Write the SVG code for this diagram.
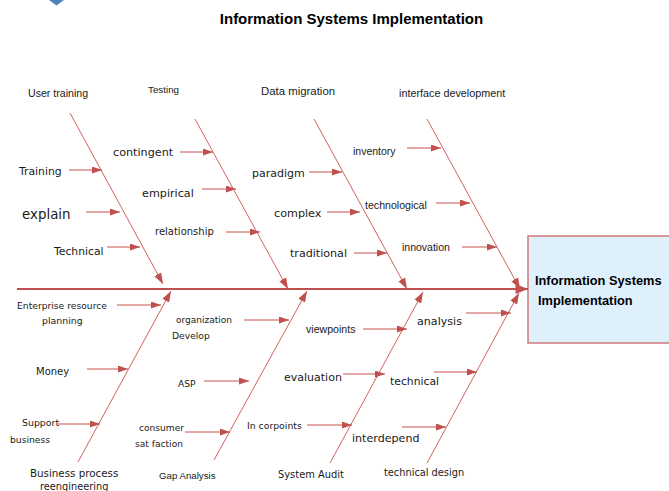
<svg xmlns="http://www.w3.org/2000/svg" width="669" height="491" viewBox="0 0 669 491">
<style>
.dv{font-family:"DejaVu Sans",Verdana,sans-serif;fill:#1a1a1a}
.ls{font-family:"Liberation Sans",Arial,sans-serif;fill:#1a1a1a}
.bone{stroke:#c9504e;stroke-width:0.9;fill:none}
.sub{stroke:#c9504e;stroke-width:1;fill:none;marker-end:url(#ah)}
</style>
<defs>
<marker id="ah" viewBox="0 0 10 7" refX="10" refY="3.5" markerWidth="11" markerHeight="7" markerUnits="userSpaceOnUse" orient="auto">
<path d="M0,0 L10,3.5 L0,7 z" fill="#c0504d"/>
</marker>
<marker id="ahb" viewBox="0 0 10 7" refX="10" refY="3.5" markerWidth="11" markerHeight="8" markerUnits="userSpaceOnUse" orient="auto">
<path d="M0,0 L10,3.5 L0,7 z" fill="#c0504d"/>
</marker>
<marker id="ahs" viewBox="0 0 10 8" refX="10" refY="4" markerWidth="13" markerHeight="10" markerUnits="userSpaceOnUse" orient="auto">
<path d="M0,0 L10,4 L0,8 z" fill="#c0504d"/>
</marker>
</defs>
<rect width="669" height="491" fill="#ffffff"/>
<polygon points="49,0 64,0 56.5,5.5" fill="#4f81bd"/>
<g id="title"><text x="351.5" y="24" text-anchor="middle" style="font-family:'Liberation Sans',Arial,sans-serif;font-weight:bold;font-size:15px;fill:#000">Information Systems Implementation</text></g>
<g id="effect">
<rect x="528" y="236" width="145" height="107" fill="#dff0fd" stroke="#d07a78" stroke-width="1.5"/>
<text x="535" y="285" class="ls" style="font-weight:bold;font-size:12.8px;fill:#000">Information Systems</text>
<text x="538" y="304.5" class="ls" style="font-weight:bold;font-size:12.8px;fill:#000">Implementation</text>
</g>
<g id="connectors">
<line x1="17" y1="289" x2="528" y2="289" stroke="#c0504d" stroke-width="2" marker-end="url(#ahs)"/>
<line class="bone" x1="70" y1="113" x2="163" y2="284" marker-end="url(#ahb)"/>
<line class="bone" x1="195" y1="119" x2="288" y2="289" marker-end="url(#ahb)"/>
<line class="bone" x1="314" y1="119" x2="407" y2="289" marker-end="url(#ahb)"/>
<line class="bone" x1="427" y1="119" x2="520" y2="289" marker-end="url(#ahb)"/>
<line class="bone" x1="78" y1="462" x2="171" y2="291" marker-end="url(#ahb)"/>
<line class="bone" x1="214" y1="460" x2="307" y2="291" marker-end="url(#ahb)"/>
<line class="bone" x1="330" y1="463" x2="423" y2="292" marker-end="url(#ahb)"/>
<line class="bone" x1="427" y1="463" x2="519" y2="293" marker-end="url(#ahb)"/>
<line class="sub" x1="69" y1="170" x2="102" y2="170"/>
<line class="sub" x1="86" y1="212" x2="120" y2="212"/>
<line class="sub" x1="107" y1="247" x2="140" y2="247"/>
<line class="sub" x1="180" y1="152" x2="213" y2="152"/>
<line class="sub" x1="202" y1="189" x2="236" y2="189"/>
<line class="sub" x1="226" y1="232" x2="260" y2="232"/>
<line class="sub" x1="309" y1="172" x2="342" y2="172"/>
<line class="sub" x1="327" y1="212" x2="360" y2="212"/>
<line class="sub" x1="354" y1="253" x2="387" y2="253"/>
<line class="sub" x1="407" y1="148" x2="441" y2="148"/>
<line class="sub" x1="436" y1="203" x2="470" y2="203"/>
<line class="sub" x1="462" y1="247" x2="497" y2="247"/>
<line class="sub" x1="117" y1="305" x2="161" y2="305"/>
<line class="sub" x1="87" y1="369" x2="128" y2="369"/>
<line class="sub" x1="58" y1="424" x2="100" y2="424"/>
<line class="sub" x1="244" y1="320" x2="289" y2="320"/>
<line class="sub" x1="204" y1="381" x2="249" y2="381"/>
<line class="sub" x1="185" y1="432" x2="230" y2="432"/>
<line class="sub" x1="363" y1="329" x2="407" y2="329"/>
<line class="sub" x1="343" y1="374" x2="385" y2="374"/>
<line class="sub" x1="307" y1="425" x2="352" y2="425"/>
<line class="sub" x1="466" y1="313" x2="511" y2="313"/>
<line class="sub" x1="434" y1="372" x2="477" y2="372"/>
<line class="sub" x1="402" y1="427" x2="446" y2="427"/>
</g>
<g id="cat-user-training"><text x="28" y="96.5" class="ls" font-size="10.6">User training</text></g>
<g id="cat-testing"><text x="148" y="92.5" class="ls" font-size="9.8">Testing</text></g>
<g id="cat-data-migration"><text x="261" y="95" class="ls" font-size="11.4">Data migration</text></g>
<g id="cat-interface"><text x="399" y="96.5" class="ls" font-size="10.8">interface development</text></g>
<g id="cat-bpr"><text x="30" y="476.5" class="dv" font-size="10.3">Business process</text><text x="40" y="490" class="dv" font-size="9.8">reengineering</text></g>
<g id="cat-gap"><text x="159" y="478.5" class="ls" font-size="9.7">Gap Analysis</text></g>
<g id="cat-audit"><text x="278" y="478" class="dv" font-size="9.9">System Audit</text></g>
<g id="cat-techdesign"><text x="384" y="476" class="dv" font-size="9.8">technical design</text></g>
<g id="c-training"><text x="19" y="174.5" class="dv" font-size="10.8">Training</text></g>
<g id="c-explain"><text x="22" y="219" class="dv" font-size="13.4">explain</text></g>
<g id="c-technical1"><text x="54" y="254.5" class="dv" font-size="10.8">Technical</text></g>
<g id="c-contingent"><text x="113" y="155.5" class="dv" font-size="11.2">contingent</text></g>
<g id="c-empirical"><text x="142" y="197" class="dv" font-size="11.2">empirical</text></g>
<g id="c-relationship"><text x="155" y="234.5" class="dv" font-size="10">relationship</text></g>
<g id="c-paradigm"><text x="252" y="176.5" class="dv" font-size="11">paradigm</text></g>
<g id="c-complex"><text x="274" y="216.5" class="dv" font-size="11.2">complex</text></g>
<g id="c-traditional"><text x="290" y="256.5" class="dv" font-size="11.1">traditional</text></g>
<g id="c-inventory"><text x="353" y="155" class="ls" font-size="10.5">inventory</text></g>
<g id="c-technological"><text x="365" y="209" class="ls" font-size="10.6">technological</text></g>
<g id="c-innovation"><text x="402" y="251" class="ls" font-size="10.5">innovation</text></g>
<g id="c-erp"><text x="17" y="309" class="dv" font-size="9.2">Enterprise resource</text><text x="42" y="324" class="dv" font-size="9.4">planning</text></g>
<g id="c-money"><text x="36" y="374.5" class="dv" font-size="10">Money</text></g>
<g id="c-support"><text x="22" y="426" class="dv" font-size="9.4">Support</text><text x="10" y="442.5" class="dv" font-size="9.2">business</text></g>
<g id="c-orgdev"><text x="176" y="322.5" class="dv" font-size="9">organization</text><text x="172" y="338.5" class="dv" font-size="9.2">Develop</text></g>
<g id="c-asp"><text x="178" y="387" class="dv" font-size="9.2">ASP</text></g>
<g id="c-consumer"><text x="139" y="430.5" class="dv" font-size="9.1">consumer</text><text x="135" y="446.5" class="dv" font-size="9.1">sat faction</text></g>
<g id="c-viewpoints"><text x="306" y="333" class="ls" font-size="10.6">viewpoints</text></g>
<g id="c-evaluation"><text x="284" y="380.5" class="dv" font-size="11">evaluation</text></g>
<g id="c-incorpoints"><text x="247" y="428.5" class="dv" font-size="9.3">In corpoints</text></g>
<g id="c-analysis"><text x="417" y="324.5" class="dv" font-size="11.1">analysis</text></g>
<g id="c-technical2"><text x="390" y="385" class="dv" font-size="10.8">technical</text></g>
<g id="c-interdepend"><text x="352" y="442" class="dv" font-size="11.1">interdepend</text></g>
</svg>
